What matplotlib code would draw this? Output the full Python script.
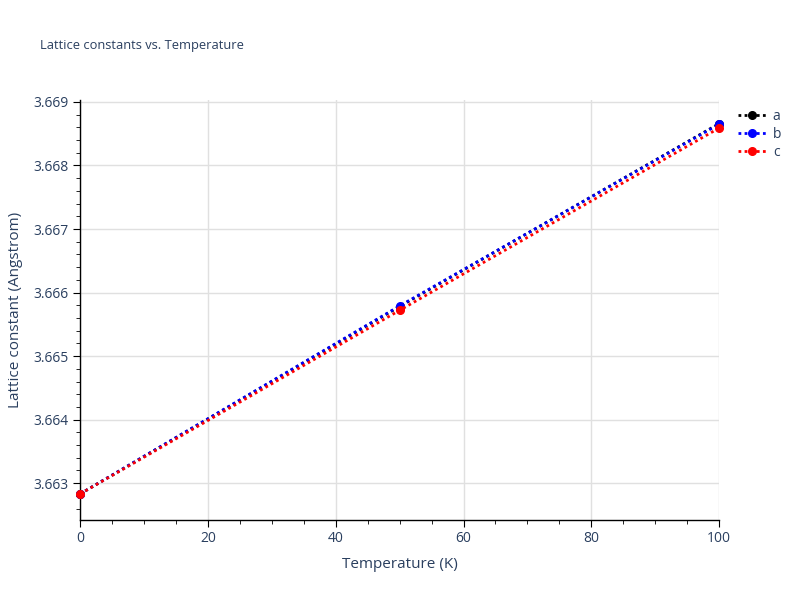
import matplotlib
matplotlib.use("Agg")
import matplotlib.pyplot as plt
from matplotlib.ticker import MultipleLocator, FormatStrFormatter

temperature = [0, 50, 100]
lat_a = [3.66283, 3.66578, 3.66866]
lat_b = [3.66283, 3.66579, 3.66865]
lat_c = [3.66283, 3.66572, 3.66859]
series_names = ["a", "b", "c"]
series_colors = ["black", "blue", "red"]

txt = "#2a3f5f"
plt.rcParams['font.family'] = ['Open Sans', 'DejaVu Sans']

fig = plt.figure(figsize=(8, 6), dpi=100)
ax = fig.add_axes([0.1, 0.1333, 0.799, 0.7])

for vals, name, col in zip([lat_a, lat_b, lat_c], series_names, series_colors):
    ax.plot(temperature, vals, linestyle=(0, (1, 1.2)), linewidth=2, color=col,
            marker="o", markersize=5.5, label=name, clip_on=False, zorder=3)

ax.set_xlim(0, 100)
ax.set_ylim(3.66242, 3.66903)
ax.xaxis.set_major_locator(MultipleLocator(20))
ax.xaxis.set_minor_locator(MultipleLocator(5))
ax.yaxis.set_major_locator(MultipleLocator(0.001))
ax.yaxis.set_minor_locator(MultipleLocator(0.0002))
ax.yaxis.set_major_formatter(FormatStrFormatter("%.3f"))
ax.grid(True, which="major", color="#e0e0e0", linewidth=1)
ax.set_axisbelow(True)

for s in ["top", "right"]:
    ax.spines[s].set_visible(False)
for s in ["left", "bottom"]:
    ax.spines[s].set_color("black")
    ax.spines[s].set_linewidth(1)

ax.tick_params(which="major", direction="out", length=5, color="black", labelcolor=txt, labelsize=10, pad=3)
ax.tick_params(which="minor", direction="out", length=3, color="black")

ax.set_xlabel("Temperature (K)", color=txt, fontsize=11, labelpad=8)
ax.set_ylabel("Lattice constant (Angstrom)", color=txt, fontsize=11, labelpad=8)

fig.text(0.05, 0.925, "Lattice constants vs. Temperature", color=txt, fontsize=9.3, ha="left", va="center")

leg = ax.legend(loc="upper left", bbox_to_anchor=(1.01, 1.008), frameon=False,
                fontsize=10, handlelength=2.0, handletextpad=0.5, labelspacing=0.22)
for t in leg.get_texts():
    t.set_color(txt)

fig.savefig("out.png", dpi=100)
